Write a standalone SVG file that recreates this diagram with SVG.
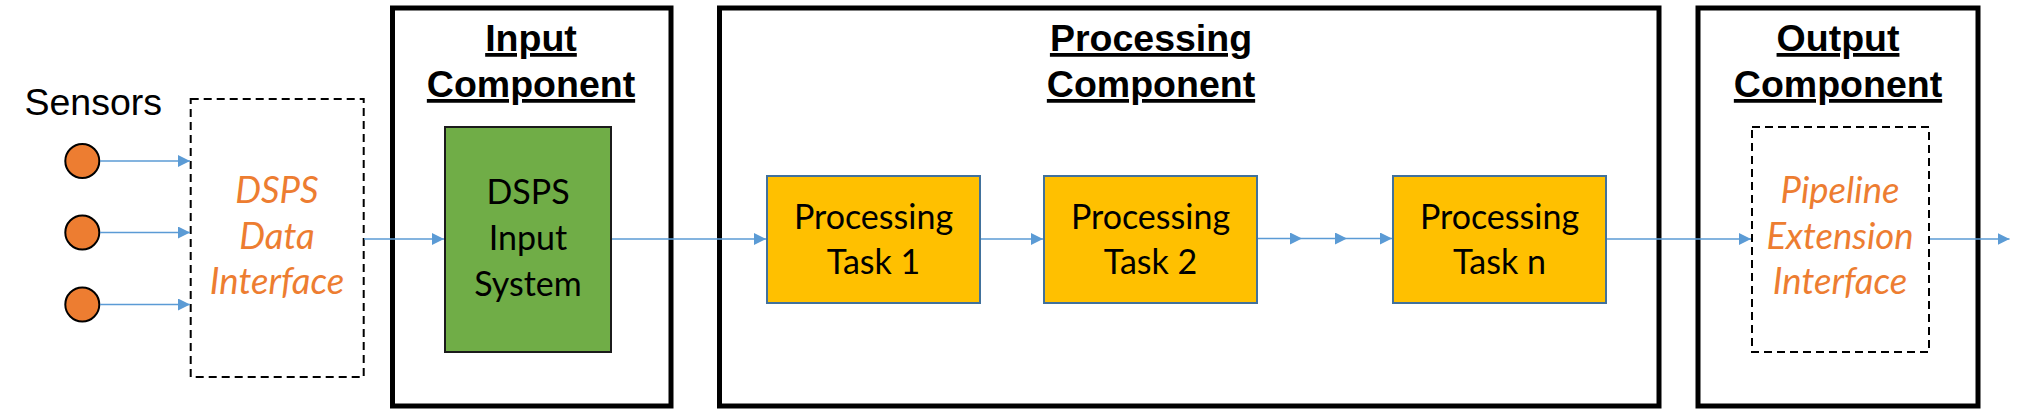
<svg xmlns="http://www.w3.org/2000/svg" width="2028" height="409" viewBox="0 0 2028 409">
<style>
.comp{fill:#fff;stroke:#000;stroke-width:5}
.dash{fill:#fff;stroke:#000;stroke-width:2;stroke-dasharray:8 5}
.task{fill:#FFC000;stroke:#41719C;stroke-width:2}
.head{font-family:"Liberation Sans",Arial,sans-serif;font-weight:bold;font-size:37.5px;text-decoration:underline;text-anchor:middle;fill:#000}
.body{font-family:Lato,"Open Sans",sans-serif;font-size:34px;text-anchor:middle;fill:#000}
.ital{font-family:Lato,"Open Sans",sans-serif;font-size:36.5px;font-style:italic;text-anchor:middle;fill:#ED7D31}
.sens{fill:#ED7D31;stroke:#000;stroke-width:2}
.conn line{stroke:#5B9BD5;stroke-width:1.6;marker-end:url(#ah)}
</style>
<defs>
<marker id="ah" markerUnits="userSpaceOnUse" markerWidth="12" markerHeight="12" refX="12" refY="6" orient="auto" viewBox="0 0 12 12">
<path d="M0,0 L12,6 L0,12 Z" fill="#5B9BD5"/>
</marker>
</defs>
<rect width="2028" height="409" fill="#fff"/>

<g id="input-component">
<rect class="comp" x="392.5" y="8" width="278.5" height="398"/>
<text class="head" x="531" y="51">Input</text>
<text class="head" x="531" y="97">Component</text>
</g>

<g id="processing-component">
<rect class="comp" x="719.5" y="8" width="939.5" height="398"/>
<text class="head" x="1151" y="51">Processing</text>
<text class="head" x="1151" y="97">Component</text>
</g>

<g id="output-component">
<rect class="comp" x="1698" y="8" width="280" height="398"/>
<text class="head" x="1838" y="51">Output</text>
<text class="head" x="1838" y="97">Component</text>
</g>

<g id="sensors">
<text x="24.5" y="115" font-family="Liberation Sans, Arial, sans-serif" font-size="37.5px" fill="#000">Sensors</text>
<circle class="sens" cx="82.3" cy="161" r="17"/>
<circle class="sens" cx="82.3" cy="232.5" r="17"/>
<circle class="sens" cx="82.3" cy="304.5" r="17"/>
</g>

<g id="dsps-data-interface">
<rect class="dash" x="190.7" y="99" width="173" height="278"/>
<text class="ital" x="277" y="203">DSPS</text>
<text class="ital" x="277" y="249">Data</text>
<text class="ital" x="277" y="294">Interface</text>
</g>

<g id="dsps-input-system">
<rect x="445" y="127" width="166" height="225" fill="#70AD47" stroke="#1b1b1b" stroke-width="2"/>
<text class="body" x="528" y="204">DSPS</text>
<text class="body" x="528" y="250">Input</text>
<text class="body" x="528" y="296">System</text>
</g>

<g id="task1">
<rect class="task" x="767" y="176" width="213" height="127"/>
<text class="body" x="873.5" y="229">Processing</text>
<text class="body" x="873.5" y="274">Task 1</text>
</g>

<g id="task2">
<rect class="task" x="1044" y="176" width="213" height="127"/>
<text class="body" x="1150.5" y="229">Processing</text>
<text class="body" x="1150.5" y="274">Task 2</text>
</g>

<g id="taskn">
<rect class="task" x="1393" y="176" width="213" height="127"/>
<text class="body" x="1499.5" y="229">Processing</text>
<text class="body" x="1499.5" y="274">Task n</text>
</g>

<g id="pipeline-extension-interface">
<rect class="dash" x="1752" y="127" width="177" height="225"/>
<text class="ital" x="1840" y="203">Pipeline</text>
<text class="ital" x="1840" y="249">Extension</text>
<text class="ital" x="1840" y="294">Interface</text>
</g>

<g id="connectors" class="conn">
<line x1="100" y1="161" x2="190" y2="161"/>
<line x1="100" y1="232.5" x2="190" y2="232.5"/>
<line x1="100" y1="304.5" x2="190" y2="304.5"/>
<line x1="364" y1="239" x2="444" y2="239"/>
<line x1="612" y1="239" x2="766" y2="239"/>
<line x1="981" y1="239" x2="1043" y2="239"/>
<line x1="1258" y1="238.5" x2="1302" y2="238.5"/>
<line x1="1302" y1="238.5" x2="1347" y2="238.5"/>
<line x1="1347" y1="238.5" x2="1392" y2="238.5"/>
<line x1="1607" y1="239" x2="1751" y2="239"/>
<line x1="1930" y1="239" x2="2009.5" y2="239"/>
</g>
</svg>
